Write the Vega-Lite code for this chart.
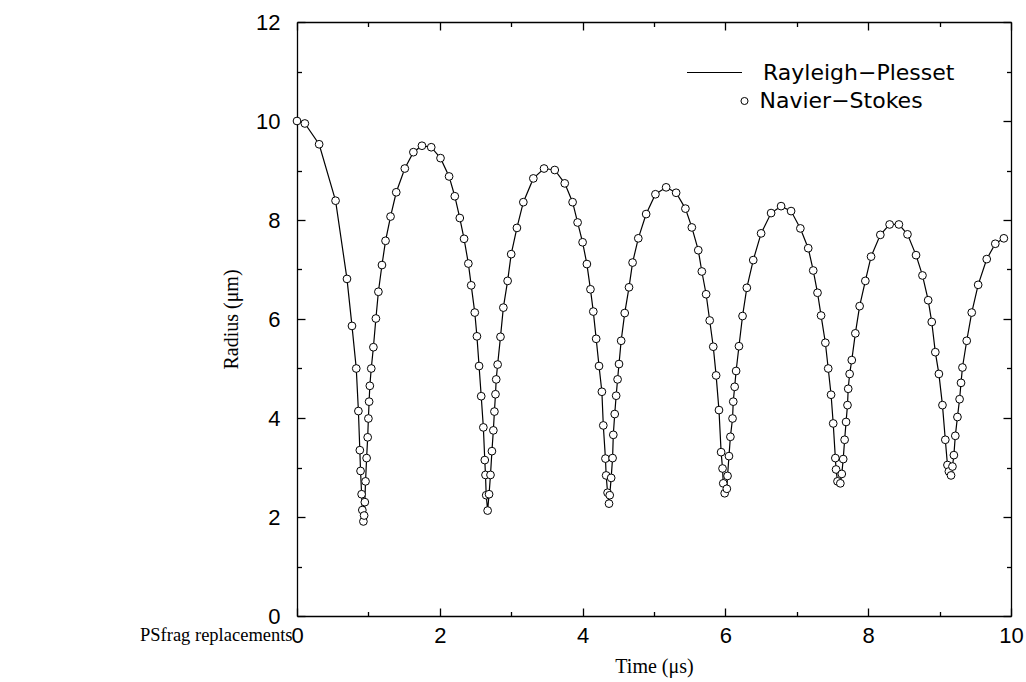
{
  "$schema": "https://vega.github.io/schema/vega-lite/v6.json",
  "width": 714,
  "height": 594,
  "autosize": "none",
  "padding": {"left": 297, "top": 22, "right": 15, "bottom": 66},
  "background": "white",
  "config": {
    "view": {"stroke": null},
    "axis": {
      "grid": false,
      "domainColor": "black",
      "domainWidth": 1.3,
      "tickColor": "black",
      "tickWidth": 1.3,
      "labelColor": "black",
      "labelFont": "Liberation Sans",
      "labelFontSize": 22,
      "titleFont": "Liberation Serif",
      "titleFontSize": 20,
      "titleFontWeight": "normal",
      "titleColor": "black"
    }
  },
  "title": {
    "text": "PSfrag replacements",
    "orient": "bottom",
    "anchor": "start",
    "frame": "group",
    "font": "Liberation Serif",
    "fontSize": 18.5,
    "fontWeight": "normal",
    "color": "black",
    "baseline": "alphabetic",
    "dx": -157,
    "dy": -39
  },
  "data": {
    "values": [
      {"t": 0.00, "r": 10.00}, {"t": 0.11, "r": 9.95}, {"t": 0.31, "r": 9.53}, {"t": 0.54, "r": 8.39},
      {"t": 0.70, "r": 6.81}, {"t": 0.77, "r": 5.86}, {"t": 0.83, "r": 5.00}, {"t": 0.86, "r": 4.14},
      {"t": 0.88, "r": 3.35}, {"t": 0.89, "r": 2.93}, {"t": 0.905, "r": 2.46}, {"t": 0.915, "r": 2.14},
      {"t": 0.93, "r": 1.91}, {"t": 0.94, "r": 2.03}, {"t": 0.95, "r": 2.30}, {"t": 0.96, "r": 2.72},
      {"t": 0.975, "r": 3.19}, {"t": 0.99, "r": 3.61}, {"t": 1.00, "r": 3.99}, {"t": 1.01, "r": 4.33},
      {"t": 1.02, "r": 4.65}, {"t": 1.04, "r": 5.00}, {"t": 1.07, "r": 5.43}, {"t": 1.105, "r": 6.01},
      {"t": 1.14, "r": 6.55}, {"t": 1.19, "r": 7.09}, {"t": 1.24, "r": 7.58}, {"t": 1.31, "r": 8.07},
      {"t": 1.39, "r": 8.56}, {"t": 1.51, "r": 9.04}, {"t": 1.63, "r": 9.37}, {"t": 1.75, "r": 9.50},
      {"t": 1.88, "r": 9.47}, {"t": 2.01, "r": 9.25}, {"t": 2.13, "r": 8.88}, {"t": 2.21, "r": 8.48},
      {"t": 2.28, "r": 8.04}, {"t": 2.34, "r": 7.62}, {"t": 2.40, "r": 7.12}, {"t": 2.44, "r": 6.68},
      {"t": 2.49, "r": 6.13}, {"t": 2.52, "r": 5.65}, {"t": 2.55, "r": 5.05}, {"t": 2.58, "r": 4.44},
      {"t": 2.61, "r": 3.81}, {"t": 2.63, "r": 3.15}, {"t": 2.64, "r": 2.85}, {"t": 2.65, "r": 2.44},
      {"t": 2.67, "r": 2.13}, {"t": 2.69, "r": 2.46}, {"t": 2.71, "r": 2.85}, {"t": 2.73, "r": 3.33},
      {"t": 2.75, "r": 3.75}, {"t": 2.765, "r": 4.13}, {"t": 2.78, "r": 4.48}, {"t": 2.79, "r": 4.78},
      {"t": 2.81, "r": 5.08}, {"t": 2.85, "r": 5.64}, {"t": 2.89, "r": 6.23}, {"t": 2.95, "r": 6.77},
      {"t": 3.00, "r": 7.31}, {"t": 3.08, "r": 7.84}, {"t": 3.17, "r": 8.36}, {"t": 3.31, "r": 8.84},
      {"t": 3.46, "r": 9.04}, {"t": 3.61, "r": 9.01}, {"t": 3.75, "r": 8.74}, {"t": 3.86, "r": 8.36},
      {"t": 3.93, "r": 7.95}, {"t": 4.00, "r": 7.55}, {"t": 4.06, "r": 7.11}, {"t": 4.11, "r": 6.60},
      {"t": 4.15, "r": 6.15}, {"t": 4.19, "r": 5.60}, {"t": 4.23, "r": 5.05}, {"t": 4.27, "r": 4.53},
      {"t": 4.29, "r": 3.85}, {"t": 4.32, "r": 3.18}, {"t": 4.33, "r": 2.84}, {"t": 4.35, "r": 2.49},
      {"t": 4.37, "r": 2.27}, {"t": 4.38, "r": 2.44}, {"t": 4.40, "r": 2.79}, {"t": 4.42, "r": 3.19},
      {"t": 4.43, "r": 3.66}, {"t": 4.45, "r": 4.08}, {"t": 4.47, "r": 4.45}, {"t": 4.49, "r": 4.78},
      {"t": 4.51, "r": 5.09}, {"t": 4.54, "r": 5.56}, {"t": 4.59, "r": 6.12}, {"t": 4.65, "r": 6.64},
      {"t": 4.70, "r": 7.14}, {"t": 4.78, "r": 7.63}, {"t": 4.89, "r": 8.12}, {"t": 5.02, "r": 8.52},
      {"t": 5.17, "r": 8.66}, {"t": 5.31, "r": 8.55}, {"t": 5.44, "r": 8.23}, {"t": 5.53, "r": 7.85},
      {"t": 5.62, "r": 7.39}, {"t": 5.67, "r": 6.96}, {"t": 5.73, "r": 6.50}, {"t": 5.78, "r": 5.97},
      {"t": 5.83, "r": 5.44}, {"t": 5.87, "r": 4.86}, {"t": 5.91, "r": 4.16}, {"t": 5.94, "r": 3.31},
      {"t": 5.96, "r": 2.98}, {"t": 5.97, "r": 2.68}, {"t": 5.99, "r": 2.48}, {"t": 6.02, "r": 2.57},
      {"t": 6.03, "r": 2.83}, {"t": 6.05, "r": 3.23}, {"t": 6.07, "r": 3.62}, {"t": 6.10, "r": 3.99},
      {"t": 6.11, "r": 4.33}, {"t": 6.13, "r": 4.63}, {"t": 6.15, "r": 4.95}, {"t": 6.19, "r": 5.45},
      {"t": 6.24, "r": 6.06}, {"t": 6.30, "r": 6.63}, {"t": 6.39, "r": 7.19}, {"t": 6.50, "r": 7.73},
      {"t": 6.64, "r": 8.14}, {"t": 6.78, "r": 8.28}, {"t": 6.92, "r": 8.18}, {"t": 7.05, "r": 7.83},
      {"t": 7.16, "r": 7.43}, {"t": 7.23, "r": 6.98}, {"t": 7.29, "r": 6.53}, {"t": 7.34, "r": 6.07},
      {"t": 7.40, "r": 5.52}, {"t": 7.44, "r": 5.00}, {"t": 7.48, "r": 4.47}, {"t": 7.51, "r": 3.89},
      {"t": 7.54, "r": 3.19}, {"t": 7.55, "r": 2.96}, {"t": 7.57, "r": 2.72}, {"t": 7.61, "r": 2.68},
      {"t": 7.63, "r": 2.87}, {"t": 7.65, "r": 3.17}, {"t": 7.67, "r": 3.56}, {"t": 7.69, "r": 3.92},
      {"t": 7.71, "r": 4.26}, {"t": 7.72, "r": 4.59}, {"t": 7.74, "r": 4.89}, {"t": 7.77, "r": 5.17},
      {"t": 7.82, "r": 5.71}, {"t": 7.88, "r": 6.26}, {"t": 7.96, "r": 6.77}, {"t": 8.04, "r": 7.26},
      {"t": 8.17, "r": 7.70}, {"t": 8.30, "r": 7.91}, {"t": 8.43, "r": 7.91}, {"t": 8.55, "r": 7.71},
      {"t": 8.67, "r": 7.29}, {"t": 8.76, "r": 6.88}, {"t": 8.84, "r": 6.38}, {"t": 8.89, "r": 5.94},
      {"t": 8.94, "r": 5.33}, {"t": 8.99, "r": 4.89}, {"t": 9.04, "r": 4.26}, {"t": 9.08, "r": 3.56},
      {"t": 9.11, "r": 3.05}, {"t": 9.13, "r": 2.92}, {"t": 9.16, "r": 2.84}, {"t": 9.18, "r": 3.02},
      {"t": 9.20, "r": 3.25}, {"t": 9.22, "r": 3.64}, {"t": 9.25, "r": 4.02}, {"t": 9.28, "r": 4.38},
      {"t": 9.30, "r": 4.71}, {"t": 9.32, "r": 5.02}, {"t": 9.38, "r": 5.56}, {"t": 9.45, "r": 6.13},
      {"t": 9.54, "r": 6.69}, {"t": 9.66, "r": 7.21}, {"t": 9.78, "r": 7.52}, {"t": 9.90, "r": 7.63}
    ]
  },
  "resolve": {"axis": {"x": "independent", "y": "independent"}},
  "layer": [
    {
      "mark": {"type": "line", "strokeWidth": 1.2},
      "encoding": {
        "x": {
          "field": "t", "type": "quantitative",
          "scale": {"domain": [0, 10], "nice": false, "zero": false},
          "axis": {
            "orient": "bottom",
            "title": "Time (μs)",
            "titlePadding": 10,
            "values": [0, 1, 2, 3, 4, 5, 6, 7, 8, 9, 10],
            "labelExpr": "datum.value % 2 == 0 ? datum.label : ''",
            "labelFlush": false,
            "labelPadding": 17,
            "tickSize": {"condition": {"test": "datum.value % 2 == 0", "value": -8}, "value": -4.5}
          }
        },
        "y": {
          "field": "r", "type": "quantitative",
          "scale": {"domain": [0, 12], "nice": false},
          "axis": {
            "orient": "left",
            "title": "Radius (μm)",
            "titlePadding": 14,
            "values": [0, 1, 2, 3, 4, 5, 6, 7, 8, 9, 10, 11, 12],
            "labelExpr": "datum.value % 2 == 0 ? datum.label : ''",
            "labelFlush": false,
            "labelPadding": 25,
            "tickSize": {"condition": {"test": "datum.value % 2 == 0", "value": -8}, "value": -4.5}
          }
        },
        "color": {
          "datum": "Rayleigh−Plesset",
          "scale": {"range": ["black"]},
          "legend": {
            "orient": "none",
            "legendX": 389,
            "legendY": 22,
            "title": null,
            "padding": 0,
            "symbolType": "stroke",
            "symbolSize": 3025,
            "symbolStrokeWidth": 1.2,
            "symbolStrokeColor": "black",
            "labelFont": "DejaVu Sans",
            "labelFontSize": 22,
            "labelColor": "black",
            "labelLimit": 400,
            "labelOffset": 20
          }
        }
      }
    },
    {
      "mark": {"type": "point", "shape": "circle", "filled": false, "fill": "white", "strokeWidth": 1, "size": 60, "opacity": 1},
      "encoding": {
        "x": {
          "field": "t", "type": "quantitative",
          "axis": {
            "orient": "top",
            "title": null,
            "labels": false,
            "values": [0, 1, 2, 3, 4, 5, 6, 7, 8, 9, 10],
            "tickSize": {"condition": {"test": "datum.value % 2 == 0", "value": -8}, "value": -4.5}
          }
        },
        "y": {
          "field": "r", "type": "quantitative",
          "axis": {
            "orient": "right",
            "title": null,
            "labels": false,
            "values": [0, 1, 2, 3, 4, 5, 6, 7, 8, 9, 10, 11, 12],
            "tickSize": {"condition": {"test": "datum.value % 2 == 0", "value": -8}, "value": -4.5}
          }
        },
        "stroke": {
          "datum": "Navier−Stokes",
          "scale": {"range": ["black"]},
          "legend": {
            "orient": "none",
            "legendX": 436.5,
            "legendY": 68,
            "title": null,
            "padding": 0,
            "symbolType": "circle",
            "symbolSize": 50,
            "symbolFillColor": "white",
            "symbolStrokeColor": "black",
            "symbolStrokeWidth": 1,
            "symbolOpacity": 1,
            "labelFont": "DejaVu Sans",
            "labelFontSize": 22,
            "labelColor": "black",
            "labelLimit": 400,
            "labelOffset": 4
          }
        }
      }
    }
  ]
}
